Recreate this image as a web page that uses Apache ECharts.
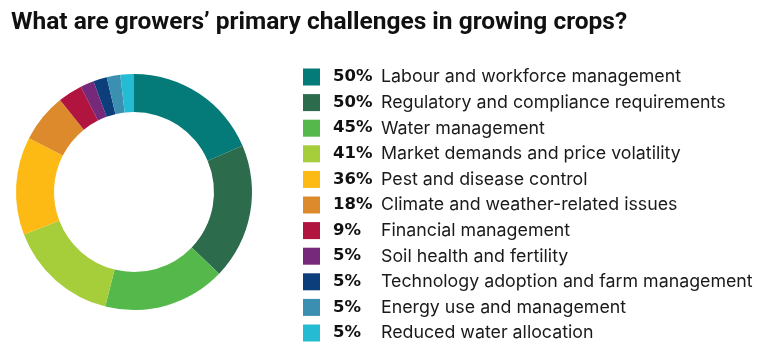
<!DOCTYPE html>
<html>
<head>
<meta charset="utf-8">
<script src="https://cdn.jsdelivr.net/npm/echarts@6/dist/echarts.min.js"></script>
<style>
  html, body { margin: 0; padding: 0; background: #fff; }
  #main { width: 768px; height: 354px; }
</style>
</head>
<body>
<div id="main"></div>
<script>
const categories = [
  'Labour and workforce management',
  'Regulatory and compliance requirements',
  'Water management',
  'Market demands and price volatility',
  'Pest and disease control',
  'Climate and weather-related issues',
  'Financial management',
  'Soil health and fertility',
  'Technology adoption and farm management',
  'Energy use and management',
  'Reduced water allocation'
]
const values = [50, 50, 45, 41, 36, 18, 9, 5, 5, 5, 5]
const colors = [
  '#047b79', // teal
  '#2d6b4d', // dark green
  '#55b84b', // green
  '#a6cd3a', // lime
  '#fdba14', // yellow
  '#dd8a2c', // orange
  '#b0143f', // crimson
  '#76287a', // purple
  '#0c3e7c', // navy
  '#3b8fb0', // steel blue
  '#25bcd3'  // cyan
]

const chart = echarts.init(document.getElementById('main'))

chart.setOption({
  animation: false,
  color: colors,
  title: {
    text: 'What are growers\u2019 primary challenges in growing crops?',
    left: 6,
    top: 5,
    textStyle: {
      fontFamily: 'Roboto',
      fontWeight: 'bold',
      fontSize: 24.5,
      color: '#111'
    }
  },
  legend: {
    orient: 'vertical',
    left: 303,
    top: 68,
    padding: 0,
    icon: 'rect',
    itemWidth: 17,
    itemHeight: 17,
    itemGap: 7.6,
    selectedMode: false,
    data: categories,
    formatter: function (name) {
      const v = values[categories.indexOf(name)]
      return '{p|' + v + '%}{n|' + name + '}'
    },
    textStyle: {
      lineHeight: 17,
      rich: {
        p: {
          fontFamily: 'DejaVu Sans',
          fontWeight: 'bold',
          fontSize: 16.5,
          lineHeight: 17,
          color: '#111',
          width: 48,
          padding: [0, 0, 0, 8]
        },
        n: {
          fontFamily: 'Inter',
          fontSize: 17.8,
          lineHeight: 17,
          color: '#1a1a1a'
        }
      }
    }
  },
  series: [{
    type: 'pie',
    center: [134, 192],
    radius: [80, 118],
    startAngle: 90,
    clockwise: true,
    silent: true,
    label: { show: false },
    labelLine: { show: false },
    data: categories.map(function (c, i) {
      return { name: c, value: values[i] }
    })
  }]
})
</script>
</body>
</html>
